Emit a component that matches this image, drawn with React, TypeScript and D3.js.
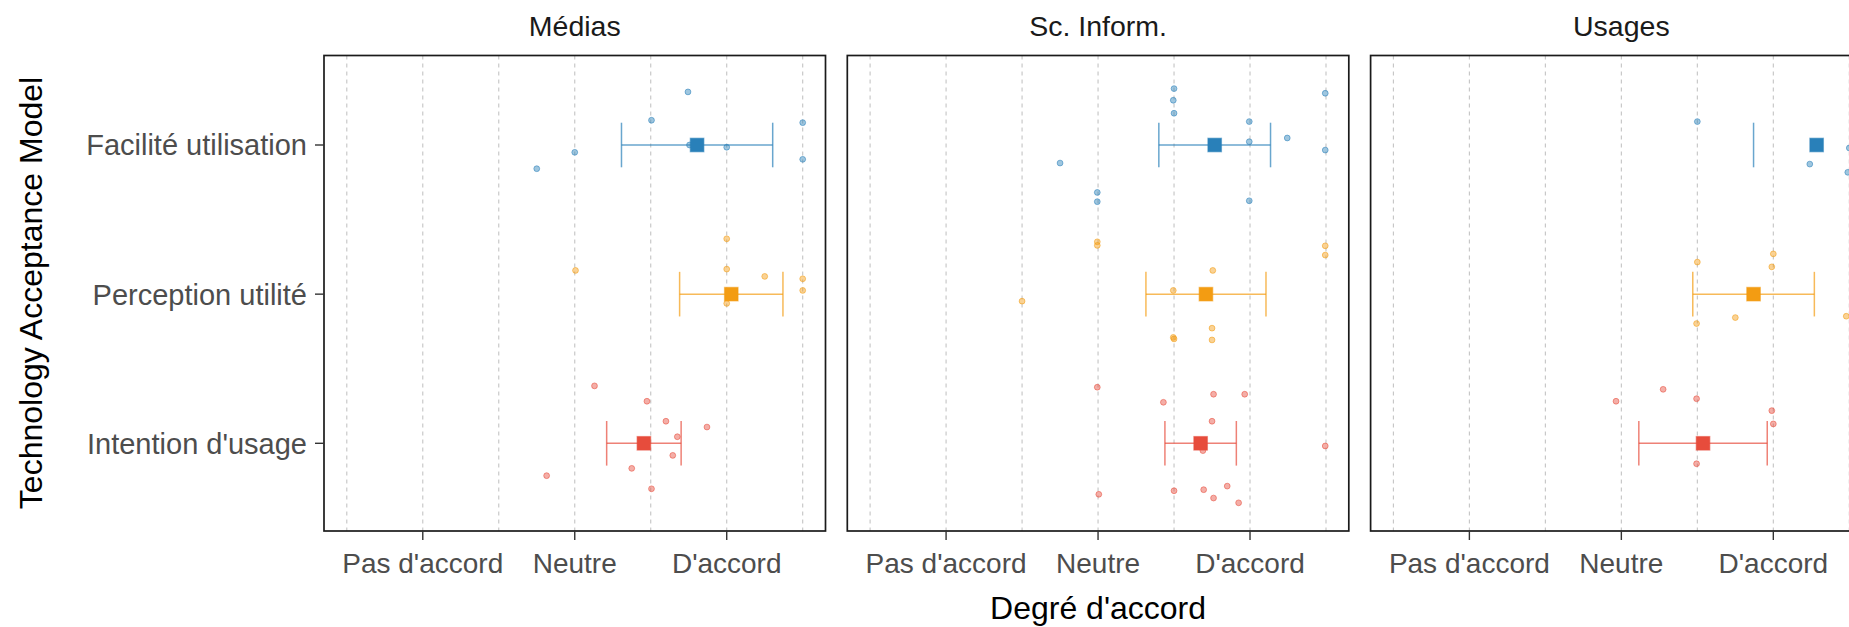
import React, { useMemo } from "react";
import * as d3 from "d3";

// facets, categories and axis labels
const facets = ["Médias", "Sc. Inform.", "Usages"];
const constructs = ["Facilité utilisation", "Perception utilité", "Intention d'usage"];
const gridValues = [1, 2, 3, 4, 5, 6, 7];
const tickValues = [2, 4, 6];
const tickLabels = ["Pas d'accord", "Neutre", "D'accord"];

// individual answers: [score (jittered), vertical jitter in row units, + is up]
const mediasFacilite = [
  [5.49, 0.356], [5.01, 0.166], [7.0, 0.15], [4.0, -0.049],
  [3.5, -0.159], [5.51, 0.0], [6.0, -0.015], [7.0, -0.096],
];
const mediasPerception = [
  [6.0, 0.371], [4.01, 0.159], [6.0, 0.168], [6.5, 0.119],
  [7.0, 0.103], [7.0, 0.025], [6.0, -0.062],
];
const mediasIntention = [
  [4.26, 0.385], [4.95, 0.282], [5.2, 0.148], [5.74, 0.109], [5.35, 0.044],
  [5.29, -0.081], [4.75, -0.168], [3.63, -0.217], [5.01, -0.305],
];
const infoFacilite = [
  [5.0, 0.378], [6.99, 0.347], [4.99, 0.3], [5.0, 0.213], [5.99, 0.157],
  [6.49, 0.047], [5.99, 0.022], [6.99, -0.034], [3.5, -0.121],
  [3.99, -0.318], [3.99, -0.38], [5.99, -0.374],
];
const infoPerception = [
  [3.99, 0.351], [3.99, 0.327], [6.99, 0.324], [6.99, 0.262], [5.51, 0.159],
  [4.99, 0.025], [3.0, -0.047], [5.5, -0.228], [4.99, -0.29], [5.0, -0.3],
  [5.5, -0.307],
];
const infoIntention = [
  [3.99, 0.376], [5.52, 0.329], [5.93, 0.329], [4.86, 0.275], [5.5, 0.148],
  [6.99, -0.018], [5.38, -0.049], [5.7, -0.287], [5.0, -0.318],
  [5.39, -0.311], [4.01, -0.342], [5.52, -0.367], [5.85, -0.399],
];
const usagesFacilite = [[5.0, 0.157], [6.48, -0.128], [6.98, -0.183], [7.0, -0.02]];
const usagesPerception = [
  [6.0, 0.27], [5.0, 0.215], [5.98, 0.183], [5.5, -0.157], [4.99, -0.197], [6.96, -0.148],
];
const usagesIntention = [
  [4.55, 0.362], [3.93, 0.282], [4.99, 0.299], [5.98, 0.219], [6.0, 0.13], [4.99, -0.137],
];

// mean and half-width of the error bar, in construct order
const meansMedias = [5.61, 6.06, 4.91];
const errMedias = [0.995, 0.68, 0.49];
const meansInfo = [5.535, 5.42, 5.35];
const errInfo = [0.735, 0.79, 0.47];
const meansUsages = [6.57, 5.74, 5.075];
const errUsages = [0.83, 0.8, 0.845];

const colors = ["#2980b9", "#f39c12", "#e74c3c"];

const panelPoints = [
  [mediasFacilite, mediasPerception, mediasIntention],
  [infoFacilite, infoPerception, infoIntention],
  [usagesFacilite, usagesPerception, usagesIntention],
];
const panelMeans = [meansMedias, meansInfo, meansUsages];
const panelErrs = [errMedias, errInfo, errUsages];

const WIDTH = 1849;
const HEIGHT = 627;
const LEFT = 324;
const PANEL_W = 501.5;
const GAP = 21.8;
const TOP = 55.5;
const BOTTOM = 531;
const X_MIN = 0.7;
const X_MAX = 7.3;
const FONT = "'Liberation Sans', Arial, sans-serif";

const Panel = ({ index }: { index: number }) => {
  const x0 = LEFT + index * (PANEL_W + GAP);
  const xScale = useMemo(
    () => d3.scaleLinear().domain([X_MIN, X_MAX]).range([x0, x0 + PANEL_W]),
    [x0]
  );
  const yScale = useMemo(
    () => d3.scalePoint<string>().domain(constructs).range([145, 443.3]),
    []
  );
  const step = yScale.step();

  return (
    <g>
      <text
        x={x0 + PANEL_W / 2}
        y={35.7}
        textAnchor="middle"
        fontSize={28.5}
        fill="#1a1a1a"
      >
        {facets[index]}
      </text>

      {gridValues.map((v) => (
        <line
          key={v}
          x1={xScale(v)}
          x2={xScale(v)}
          y1={TOP}
          y2={BOTTOM}
          stroke="#c4c4c4"
          strokeWidth={1.1}
          strokeDasharray="4,4"
        />
      ))}

      {constructs.map((c, i) =>
        panelPoints[index][i].map(([v, j], k) => (
          <circle
            key={c + k}
            cx={xScale(v)}
            cy={(yScale(c) ?? 0) - j * step}
            r={2.9}
            fill={colors[i]}
            fillOpacity={0.45}
            stroke={colors[i]}
            strokeOpacity={0.55}
            strokeWidth={1}
          />
        ))
      )}

      {constructs.map((c, i) => {
        const y = yScale(c) ?? 0;
        const m = panelMeans[index][i];
        const e = panelErrs[index][i];
        const lo = xScale(m - e);
        const hi = xScale(m + e);
        // a bar running past the axis limit is dropped, only the left cap is kept
        const inside = m + e <= X_MAX;
        return (
          <g key={c} stroke={colors[i]} strokeWidth={1.5} strokeOpacity={0.7}>
            {inside && <line x1={lo} x2={hi} y1={y} y2={y} />}
            <line x1={lo} x2={lo} y1={y - 22.3} y2={y + 22.3} />
            {inside && <line x1={hi} x2={hi} y1={y - 22.3} y2={y + 22.3} />}
          </g>
        );
      })}

      {constructs.map((c, i) => {
        const y = yScale(c) ?? 0;
        const cx = xScale(panelMeans[index][i]);
        return (
          <rect
            key={c}
            x={cx - 6.8}
            y={y - 6.8}
            width={13.6}
            height={13.6}
            fill={colors[i]}
            stroke={colors[i]}
            strokeOpacity={0.5}
            strokeWidth={1.2}
          />
        );
      })}

      <rect
        x={x0}
        y={TOP}
        width={PANEL_W}
        height={BOTTOM - TOP}
        fill="none"
        stroke="#1a1a1a"
        strokeWidth={1.7}
      />

      {tickValues.map((v, i) => (
        <g key={v}>
          <line
            x1={xScale(v)}
            x2={xScale(v)}
            y1={BOTTOM}
            y2={BOTTOM + 9}
            stroke="#333"
            strokeWidth={1.4}
          />
          <text
            x={xScale(v)}
            y={572.7}
            textAnchor="middle"
            fontSize={28}
            fill="#4d4d4d"
          >
            {tickLabels[i]}
          </text>
        </g>
      ))}

      {index === 0 &&
        constructs.map((c) => (
          <g key={c}>
            <line
              x1={x0 - 9}
              x2={x0}
              y1={yScale(c)}
              y2={yScale(c)}
              stroke="#333"
              strokeWidth={1.4}
            />
            <text
              x={x0 - 17}
              y={yScale(c)}
              dy="0.36em"
              textAnchor="end"
              fontSize={29}
              fill="#4d4d4d"
            >
              {c}
            </text>
          </g>
        ))}
    </g>
  );
};

export default function App() {
  return (
    <svg
      width={WIDTH}
      height={HEIGHT}
      style={{ position: "absolute", left: 0, top: 0, background: "#fff" }}
      fontFamily={FONT}
    >
      <rect width={WIDTH} height={HEIGHT} fill="#fff" />
      {facets.map((f, i) => (
        <Panel key={f} index={i} />
      ))}
      <text
        x={LEFT + PANEL_W * 1.5 + GAP}
        y={619}
        textAnchor="middle"
        fontSize={32}
        fill="#000"
      >
        Degré d'accord
      </text>
      <text
        transform={`translate(41.5, 293) rotate(-90)`}
        textAnchor="middle"
        fontSize={32}
        fill="#000"
      >
        Technology Acceptance Model
      </text>
    </svg>
  );
}
